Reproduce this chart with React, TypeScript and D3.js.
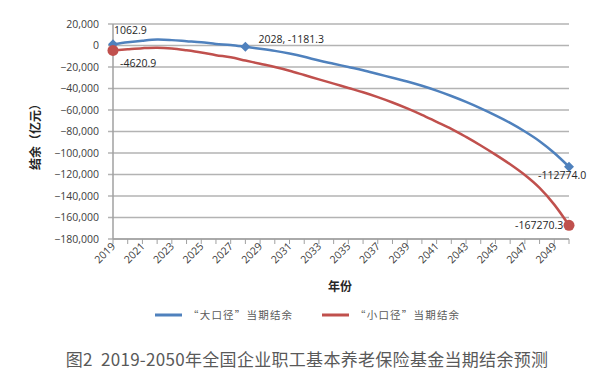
import React from "react";
import * as d3 from "d3";

const years = d3.range(2019, 2051);
const bigCaliber = [
  1062.9, 3000, 4500, 5500, 5000, 4000, 3000, 1500, 500, -1181.3,
  -3000, -5000, -7500, -10500, -14000, -17000, -20000, -23000, -26500, -30000,
  -33500, -37500, -42000, -47000, -52500, -58500, -65000, -72000, -80000, -89000,
  -100000, -112774.0,
];
const smallCaliber = [
  -4620.9, -3500, -2500, -2000, -2800, -4500, -6500, -9000, -11000, -14000,
  -17000, -20000, -23500, -27500, -31500, -35500, -39500, -43500, -48000, -53000,
  -58500, -64500, -71000, -77500, -85000, -93000, -101500, -110500, -120500, -132500,
  -148000, -167270.3,
];
const yTicks = d3.range(20000, -180001, -20000);
const xLabelYears = d3.range(2019, 2050, 2);
const seriesNames = ["“大口径”当期结余", "“小口径”当期结余"];
const colors = ["#4f81bd", "#c0504d"];
const caption = "图2  2019-2050年全国企业职工基本养老保险基金当期结余预测";

export default function App() {
  const x = d3.scaleLinear().domain([2019, 2050]).range([113, 569]);
  const y = d3.scaleLinear().domain([-180000, 20000]).range([239, 24]);
  const fmt = d3.format(",");
  const line = d3
    .line<number>()
    .x((_, i) => x(years[i]))
    .y((d) => y(d))
    .curve(d3.curveCatmullRom.alpha(0.5));
  const numFont = "'Open Sans', 'DejaVu Sans', sans-serif";
  const cjk = "'Noto Sans CJK SC', sans-serif";
  const diamond = (cx: number, cy: number, r: number) =>
    `M${cx},${cy - r}L${cx + r},${cy}L${cx},${cy + r}L${cx - r},${cy}Z`;
  const blueMarks = [0, 9, 31];
  const redMarks = [0, 31];
  return (
    <svg
      width={612}
      height={387}
      style={{ position: "absolute", left: 0, top: 0, background: "#fff" }}
    >
      {yTicks.map((t) => (
        <g key={t}>
          <line x1={108} x2={569} y1={y(t)} y2={y(t)} stroke="#b3b3b3" strokeWidth={1.5} />
          <text
            x={99}
            y={y(t) + 3.8}
            textAnchor="end"
            fontSize={10.5}
            fontFamily={numFont}
            fill="#404040"
          >
            {t === 0 ? "0" : fmt(t)}
          </text>
        </g>
      ))}
      <line x1={113} x2={113} y1={y(20000)} y2={y(-180000)} stroke="#a0a0a0" strokeWidth={1.5} />
      <line x1={113} x2={569} y1={y(-180000)} y2={y(-180000)} stroke="#a0a0a0" strokeWidth={1.5} />
      {years.map((yr) => (
        <line key={yr} x1={x(yr)} x2={x(yr)} y1={239} y2={244} stroke="#a0a0a0" strokeWidth={1} />
      ))}
      {xLabelYears.map((yr) => (
        <text
          key={yr}
          transform={`translate(${x(yr) + 3},${247}) rotate(-45)`}
          textAnchor="end"
          fontSize={10.5}
          fontFamily={numFont}
          fill="#404040"
        >
          {yr}
        </text>
      ))}
      <path d={line(smallCaliber) || ""} fill="none" stroke={colors[1]} strokeWidth={2.5} />
      <path d={line(bigCaliber) || ""} fill="none" stroke={colors[0]} strokeWidth={2.5} />
      {blueMarks.map((i) => (
        <path key={i} d={diamond(x(years[i]), y(bigCaliber[i]), 5)} fill={colors[0]} />
      ))}
      {redMarks.map((i) => (
        <circle key={i} cx={x(years[i])} cy={y(smallCaliber[i])} r={5.5} fill={colors[1]} />
      ))}
      <g fontSize={10.5} fontFamily={numFont} fill="#262626">
        <text x={x(2019) + 1} y={y(bigCaliber[0]) - 10}>
          {bigCaliber[0].toFixed(1)}
        </text>
        <text x={x(2019) + 7} y={y(smallCaliber[0]) + 17}>
          {smallCaliber[0].toFixed(1)}
        </text>
        <text x={x(2028) + 13} y={y(bigCaliber[9]) - 4}>
          {`2028, ${bigCaliber[9].toFixed(1)}`}
        </text>
        <text x={x(2050) - 31} y={y(bigCaliber[31]) + 12}>
          {bigCaliber[31].toFixed(1)}
        </text>
        <text x={x(2050) - 54} y={y(smallCaliber[31]) + 4}>
          {smallCaliber[31].toFixed(1)}
        </text>
      </g>
      <text
        transform={`translate(40,134) rotate(-90)`}
        textAnchor="middle"
        fontSize={12}
        fontWeight="bold"
        fontFamily={cjk}
        fill="#262626"
      >
        结余（亿元）
      </text>
      <text x={340} y={291} textAnchor="middle" fontSize={12} fontWeight="bold" fontFamily={cjk} fill="#262626">
        年份
      </text>
      {seriesNames.map((n, i) => (
        <g key={n} transform={`translate(${155 + i * 167},315)`}>
          <line x1={0} x2={27} y1={0} y2={0} stroke={colors[i]} strokeWidth={3} />
          <text x={33} y={4} fontSize={10.5} letterSpacing={1.2} fontFamily={cjk} fill="#595959">
            {n}
          </text>
        </g>
      ))}
      <text
        x={307}
        y={366}
        textAnchor="middle"
        fontSize={17}
        fontFamily={cjk}
        fill="#595959"
        style={{ whiteSpace: "pre" }}
        letterSpacing={0.3}
      >
        {caption}
      </text>
    </svg>
  );
}
